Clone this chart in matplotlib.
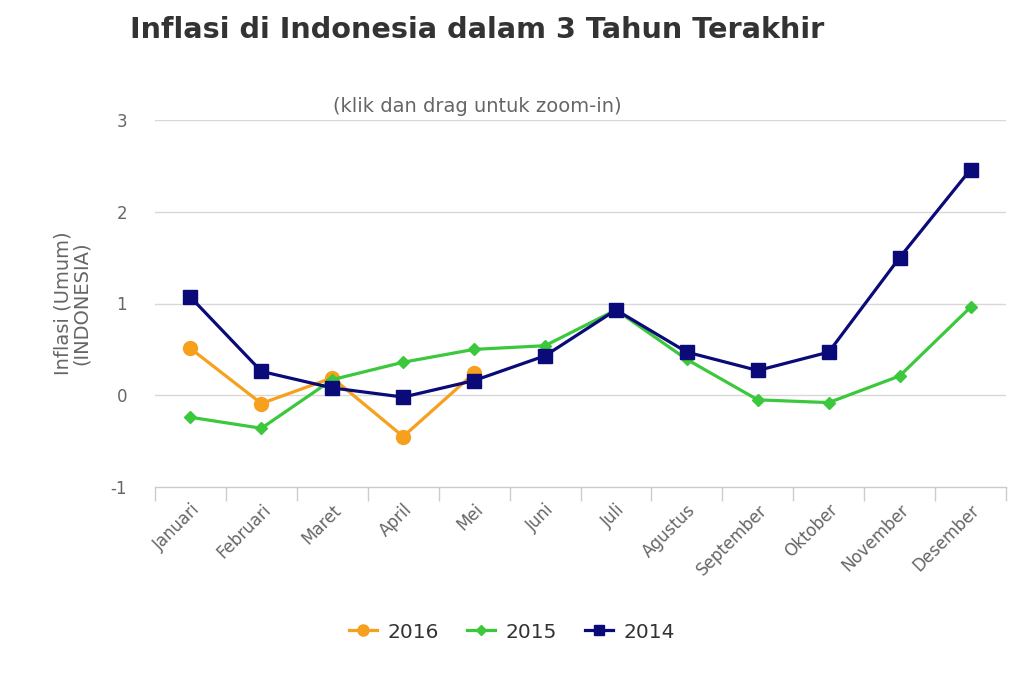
import matplotlib
matplotlib.use("Agg")
import matplotlib.pyplot as plt
import numpy as np

months = ["Januari", "Februari", "Maret", "April", "Mei", "Juni", "Juli",
          "Agustus", "September", "Oktober", "November", "Desember"]
v2016 = [0.51, -0.09, 0.19, -0.45, 0.24]
v2015 = [-0.24, -0.36, 0.17, 0.36, 0.50, 0.54, 0.93, 0.39, -0.05, -0.08, 0.21, 0.96]
v2014 = [1.07, 0.26, 0.08, -0.02, 0.16, 0.43, 0.93, 0.47, 0.27, 0.47, 1.50, 2.46]
yticks = [-1, 0, 1, 2, 3]

plt.rcParams['font.family'] = ['DejaVu Sans']

fig = plt.figure(figsize=(10.24, 6.83), dpi=100)
ax = fig.add_axes([155/1024, 1-487/683, (1006-155)/1024, (487-120)/683])

x = np.arange(len(months))
c16, c15, c14 = "#F7A01E", "#3CC83C", "#0A0A78"
l16, = ax.plot(x[:len(v2016)], v2016, color=c16, lw=2.3, marker='o', ms=10, zorder=3, label="2016")
l15, = ax.plot(x, v2015, color=c15, lw=2.3, marker='D', ms=6.5, zorder=4, label="2015")
l14, = ax.plot(x, v2014, color=c14, lw=2.3, marker='s', ms=9.5, zorder=5, label="2014")

ax.set_xlim(-0.5, len(months) - 0.5)
ax.set_ylim(-1, 3)
ax.set_yticks(yticks)
ax.set_yticklabels([str(t) for t in yticks])
for t in [0, 1, 2, 3]:
    ax.axhline(t, color="#D8D8D8", lw=1, zorder=1)

for s in ["top", "right", "left"]:
    ax.spines[s].set_visible(False)
ax.spines["bottom"].set_color("#CCCCCC")
ax.spines["bottom"].set_linewidth(1)

ax.set_xticks(x)
ax.set_xticklabels(months, rotation=45, ha="right", rotation_mode="anchor",
                   fontsize=12, color="#666666")
ax.set_xticks(np.arange(-0.5, len(months)), minor=True)
ax.tick_params(axis="x", which="major", length=0, pad=10)
ax.tick_params(axis="x", which="minor", length=10, color="#CCCCCC", width=1)
ax.tick_params(axis="y", length=0, pad=20, labelsize=12, labelcolor="#666666")

ax.set_ylabel("Inflasi (Umum)\n(INDONESIA)", fontsize=14, color="#666666",
              labelpad=14, linespacing=1.0)

fig.text(130/1024, 1-30/683, "Inflasi di Indonesia dalam 3 Tahun Terakhir",
         fontsize=20.7, fontweight="bold", color="#333333", ha="left", va="center")
fig.text(477/1024, 1-106/683, "(klik dan drag untuk zoom-in)",
         fontsize=14, color="#666666", ha="center", va="center")

leg = fig.legend(handles=[l16, l15, l14], loc="center", bbox_to_anchor=(512/1024, 1-632/683),
                 ncol=3, frameon=False, fontsize=14.5, handlelength=1.4, columnspacing=1.4,
                 handletextpad=0.5, markerscale=0.8)
for t in leg.get_texts():
    t.set_color("#333333")

fig.savefig("out.png", dpi=100)
